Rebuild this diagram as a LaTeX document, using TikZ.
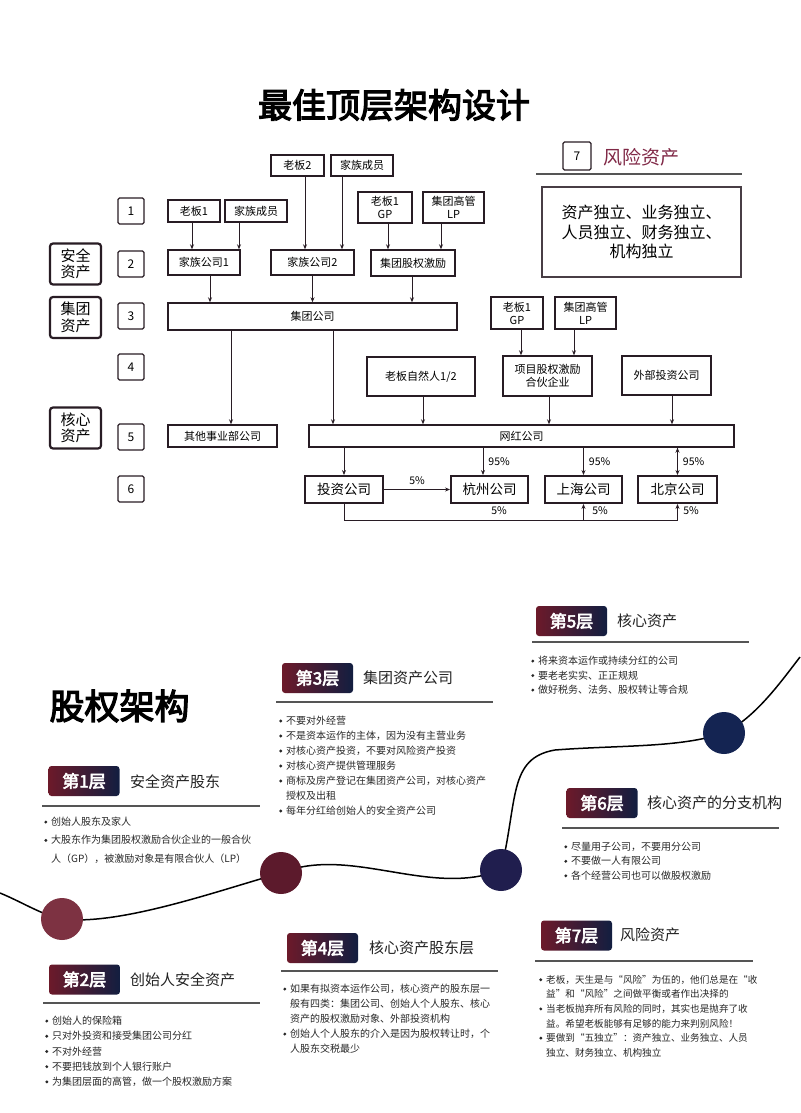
\documentclass[tikz,border=0pt]{standalone}
\usepackage{fontspec}
\setmainfont{Noto Sans CJK SC}[AutoFakeBold=3.5]
\usetikzlibrary{arrows.meta, positioning}

\definecolor{boxline}{RGB}{40,28,36}
\definecolor{riskred}{RGB}{128,40,70}
\definecolor{badgeL}{RGB}{108,26,42}
\definecolor{badgeR}{RGB}{18,30,64}
\definecolor{rulegray}{RGB}{85,85,85}
\definecolor{headtext}{RGB}{34,34,34}
\definecolor{itemtext}{RGB}{40,40,40}
\definecolor{dotA}{RGB}{125,50,66}
\definecolor{dotB}{RGB}{92,26,44}
\definecolor{dotC}{RGB}{32,30,78}
\definecolor{dotD}{RGB}{20,36,82}

\newcommand\itemdot{\makebox[7pt][l]{\tikz[baseline=0pt]\fill[itemtext] (1.7pt,3.6pt) circle[radius=1.6pt];}}
\newcommand\itemgap{\hspace*{7pt}}

\begin{document}
\begin{tikzpicture}[x=1pt, y=-1pt,
  wh/.style 2 args={minimum width=#1pt, minimum height=#2pt},
  box/.style={draw=boxline, line width=1.4pt, inner sep=0pt, align=center,
    font=\fontsize{11}{13}\selectfont},
  bigbox/.style={box, line width=1.9pt, font=\fontsize{13.5}{14}\selectfont},
  numbox/.style={draw=boxline, line width=1.2pt, rounded corners=1.5pt,
    minimum size=26pt, inner sep=0pt, font=\fontsize{12}{12}\selectfont},
  catbox/.style={draw=boxline, line width=2.2pt, rounded corners=3pt, wh={51}{41},
    inner sep=0pt, align=center, font=\fontsize{15}{16.5}\selectfont},
  arr/.style={-{Stealth[length=5pt, width=4pt]}, line width=0.9pt, draw=boxline},
  pct/.style={font=\fontsize{10.5}{11}\selectfont, inner sep=1pt},
  badge/.style={rounded corners=3pt, left color=badgeL, right color=badgeR, wh={71}{30},
    text=white, inner sep=0pt, font=\fontsize{17}{17}\selectfont\bfseries},
  head/.style={anchor=west, inner sep=0pt, text=headtext, font=\fontsize{15}{15}\selectfont},
  rule/.style={draw=rulegray, line width=1.3pt},
  items/.style={anchor=north west, align=left, inner sep=0pt, text=itemtext},
  dot/.style={circle, minimum size=42pt, inner sep=0pt}
]
\path[use as bounding box, fill=white] (0,0) rectangle (800,1113);

\node[font=\fontsize{34}{34}\selectfont\bfseries] (title) at (394,105) {最佳顶层架构设计};

\node[numbox] (n1) at (131,211) {1};
\node[numbox] (n2) at (131,264) {2};
\node[numbox] (n3) at (131,316) {3};
\node[numbox] (n4) at (131,367) {4};
\node[numbox] (n5) at (131,437) {5};
\node[numbox] (n6) at (131,489) {6};
\node[catbox] (safe) at (75.5,264) {安全\\资产};
\node[catbox] (grp) at (75.5,317.5) {集团\\资产};
\node[catbox] (core) at (75.5,428) {核心\\资产};

\node[box, wh={52}{22}] (boss1) at (194,211) {老板1};
\node[box, wh={62}{22}] (mem1) at (256,211) {家族成员};
\node[box, wh={53}{21}] (boss2) at (297.5,165.5) {老板2};
\node[box, wh={62}{21}] (mem2) at (362,165.5) {家族成员};
\node[box, wh={54}{31}] (gp1) at (385,207.5) {老板1\\GP};
\node[box, wh={61}{31}] (lp1) at (453.5,207.5) {集团高管\\LP};
\node[box, wh={72}{25}] (fam1) at (204,262.5) {家族公司1};
\node[box, wh={83}{25}] (fam2) at (312.5,262.5) {家族公司2};
\node[box, wh={84}{26}] (inc) at (413,263) {集团股权激励};
\node[box, wh={289}{27}] (group) at (312.5,316.5) {集团公司};
\node[box, wh={52}{32}] (gp2) at (517,313) {老板1\\GP};
\node[box, wh={61}{32}] (lp2) at (585.5,313) {集团高管\\LP};
\node[box, wh={108}{39}] (natural) at (421,376.5) {老板自然人1/2};
\node[box, wh={89}{40}] (proj) at (547.5,376) {项目股权激励\\合伙企业};
\node[box, wh={89}{39}] (ext) at (666.5,375.5) {外部投资公司};
\node[box, wh={109}{22}] (other) at (222.5,436) {其他事业部公司};
\node[box, wh={425}{22}] (web) at (521.5,436) {网红公司};
\node[bigbox, wh={78}{27}] (inv) at (344,489.5) {投资公司};
\node[bigbox, wh={77}{27}] (hz) at (489.5,489.5) {杭州公司};
\node[bigbox, wh={77}{27}] (sh) at (583.5,489.5) {上海公司};
\node[bigbox, wh={79}{27}] (bj) at (677.5,489.5) {北京公司};

\node[numbox, minimum size=28pt] (n7) at (577,156) {7};
\node[anchor=west, text=riskred, font=\fontsize{19}{19}\selectfont] (risktitle) at (600,157) {风险资产};
\draw[rule, line width=1.2pt] (536,174) -- (742,174);
\node[draw=boxline!85, line width=1.3pt, wh={199}{90}, align=center,
  font=\fontsize{16}{19.5}\selectfont] (riskbox) at (641.5,232)
  {资产独立、业务独立、\\人员独立、财务独立、\\机构独立};

\coordinate (a1) at ([xshift=-2pt]boss1.south);
\coordinate (a2) at ([xshift=-17pt]mem1.south);
\coordinate (a3) at ([xshift=7.5pt]boss2.south);
\coordinate (a4) at ([xshift=-20pt]mem2.south);
\coordinate (a5) at ([xshift=3pt]gp1.south);
\coordinate (a6) at ([xshift=-12.5pt]lp1.south);
\coordinate (a7) at ([xshift=6pt]fam1.south);
\coordinate (a8) at (fam2.south);
\coordinate (a9) at ([xshift=-1pt]inc.south);
\coordinate (a10) at ([xshift=-81.5pt]group.south);
\coordinate (a11) at ([xshift=20.5pt]group.south);
\coordinate (a12) at ([xshift=4pt]gp2.south);
\coordinate (a13) at ([xshift=-11.5pt]lp2.south);
\coordinate (a14) at ([xshift=2pt]natural.south);
\coordinate (a15) at ([xshift=1.5pt]proj.south);
\coordinate (a16) at ([xshift=5.5pt]ext.south);
\coordinate (a17) at ([xshift=-6.5pt]hz.north);
\coordinate (low) at ([yshift=-16pt]inv.south);

\path[arr]
  (a1) edge (a1 |- fam1.north)
  (a2) edge (a2 |- fam1.north)
  (a3) edge (a3 |- fam2.north)
  (a4) edge (a4 |- fam2.north)
  (a5) edge (a5 |- inc.north)
  (a6) edge (a6 |- inc.north)
  (a7) edge (a7 |- group.north)
  (a8) edge (a8 |- group.north)
  (a9) edge (a9 |- group.north)
  (a10) edge (a10 |- other.north)
  (a11) edge (a11 |- web.north)
  (a12) edge (a12 |- proj.north)
  (a13) edge (a13 |- proj.north)
  (a14) edge (a14 |- web.north)
  (a15) edge (a15 |- web.north)
  (a16) edge (a16 |- web.north)
  (inv.north |- web.south) edge (inv.north)
  (a17 |- web.south) edge node[pct, right=4pt] {95\%} (a17)
  (sh.north |- web.south) edge node[pct, right=4pt] {95\%} (sh.north)
  (bj.north |- web.south) edge node[pct, right=4pt] {95\%} (bj.north)
  (inv) edge node[pct, above=3pt] {5\%} (hz);
\draw[arr] (inv.south) -- (low) -| (bj.south);
\draw[arr] (low -| sh.south) -- (sh.south);
\node[pct] (pc1) at (499,511) {5\%};
\node[pct] (pc2) at (600,511) {5\%};
\node[pct] (pc3) at (691,511) {5\%};

\coordinate (wstart) at (0,893);
\coordinate (c1) at (62,919);
\coordinate (c2) at (281,873);
\coordinate (c3) at (501,870);
\coordinate (wbend) at (555,750);
\coordinate (c4) at (724,733);
\coordinate (wend) at (800,657);
\draw[line width=1.5pt] (wstart) .. controls (22,902) and (42,915) .. (c1)
  .. controls (120,926) and (220,890) .. (c2)
  .. controls (350,845) and (430,898) .. (c3)
  .. controls (518,800) and (508,758) .. (wbend)
  .. controls (620,745) and (680,748) .. (c4)
  .. controls (755,718) and (780,683) .. (wend);
\node[dot, fill=dotA] (dot1) at (c1) {};
\node[dot, fill=dotB] (dot2) at (c2) {};
\node[dot, fill=dotC] (dot3) at (c3) {};
\node[dot, fill=dotD] (dot4) at (c4) {};

\node[anchor=west, font=\fontsize{35}{35}\selectfont\bfseries] (equity) at (46,706) {股权架构};

\node[badge] (b1) at (84,781) {第1层};
\node[head] (h1) at (130,782) {安全资产股东};
\draw[rule] (42,806) -- (260,806);
\node[items, font=\fontsize{10}{18.3}\selectfont] (l1) at (44,817)
  {\itemdot 创始人股东及家人\\
   \itemdot 大股东作为集团股权激励合伙企业的一般合伙\\
   \itemgap 人（GP），被激励对象是有限合伙人（LP）};

\node[badge] (b3) at (317.5,678) {第3层};
\node[head] (h3) at (363,678) {集团资产公司};
\draw[rule] (276,702) -- (493,702);
\node[items, font=\fontsize{10}{15}\selectfont] (l3) at (279,716)
  {\itemdot 不要对外经营\\
   \itemdot 不是资本运作的主体，因为没有主营业务\\
   \itemdot 对核心资产投资，不要对风险资产投资\\
   \itemdot 对核心资产提供管理服务\\
   \itemdot 商标及房产登记在集团资产公司，对核心资产\\
   \itemgap 授权及出租\\
   \itemdot 每年分红给创始人的安全资产公司};

\node[badge] (b5) at (571.5,621) {第5层};
\node[head] (h5) at (617,621) {核心资产};
\draw[rule] (532,642) -- (749,642);
\node[items, font=\fontsize{10}{14.5}\selectfont] (l5) at (531,656)
  {\itemdot 将来资本运作或持续分红的公司\\
   \itemdot 要老老实实、正正规规\\
   \itemdot 做好税务、法务、股权转让等合规};

\node[badge] (b6) at (602,803) {第6层};
\node[head] (h6) at (647,803) {核心资产的分支机构};
\draw[rule] (562,828) -- (779,828);
\node[items, font=\fontsize{10}{14.5}\selectfont] (l6) at (564,842)
  {\itemdot 尽量用子公司，不要用分公司\\
   \itemdot 不要做一人有限公司\\
   \itemdot 各个经营公司也可以做股权激励};

\node[badge] (b2) at (84.5,979.5) {第2层};
\node[head] (h2) at (130,980) {创始人安全资产};
\draw[rule] (43,1003) -- (260,1003);
\node[items, font=\fontsize{10}{15.2}\selectfont] (l2) at (45,1016)
  {\itemdot 创始人的保险箱\\
   \itemdot 只对外投资和接受集团公司分红\\
   \itemdot 不对外经营\\
   \itemdot 不要把钱放到个人银行账户\\
   \itemdot 为集团层面的高管，做一个股权激励方案};

\node[badge] (b4) at (322.5,948) {第4层};
\node[head] (h4) at (369,948) {核心资产股东层};
\draw[rule] (281,971) -- (498,971);
\node[items, font=\fontsize{10}{15}\selectfont] (l4) at (283,984)
  {\itemdot 如果有拟资本运作公司，核心资产的股东层一\\
   \itemgap 般有四类：集团公司、创始人个人股东、核心\\
   \itemgap 资产的股权激励对象、外部投资机构\\
   \itemdot 创始人个人股东的介入是因为股权转让时，个\\
   \itemgap 人股东交税最少};

\node[badge] (b7) at (576.5,935.5) {第7层};
\node[head] (h7) at (620,935) {风险资产};
\draw[rule] (535,961) -- (753,961);
\node[items, font=\fontsize{9.6}{14.6}\selectfont] (l7) at (539,975)
  {\itemdot 老板，天生是与“风险”为伍的，他们总是在“收\\
   \itemgap 益”和“风险”之间做平衡或者作出决择的\\
   \itemdot 当老板抛弃所有风险的同时，其实也是抛弃了收\\
   \itemgap 益。希望老板能够有足够的能力来判别风险！\\
   \itemdot 要做到“五独立”：资产独立、业务独立、人员\\
   \itemgap 独立、财务独立、机构独立};
\end{tikzpicture}
\end{document}
